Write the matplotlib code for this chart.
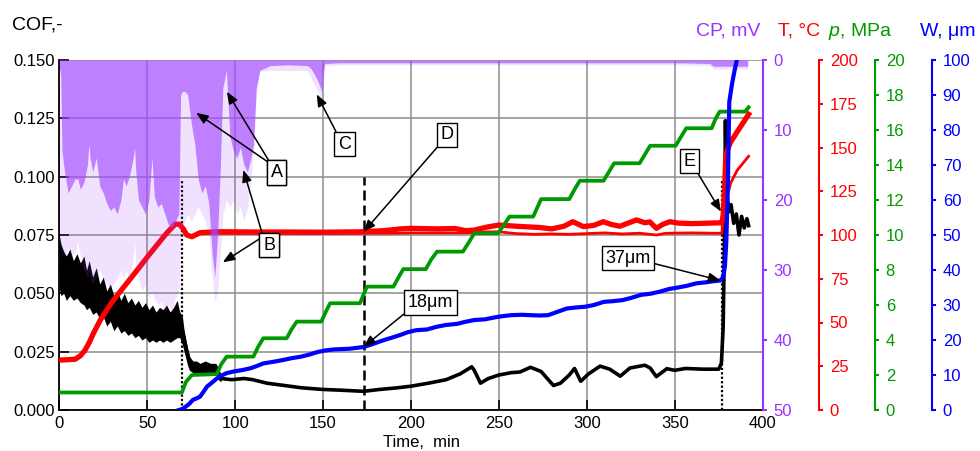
import matplotlib
matplotlib.use('Agg')
import matplotlib.pyplot as plt
from matplotlib.ticker import MultipleLocator, FormatStrFormatter

plt.rcParams['font.family'] = ['Liberation Sans', 'DejaVu Sans']
plt.rcParams['mathtext.fontset'] = 'custom'
plt.rcParams['mathtext.rm'] = 'Liberation Sans'
plt.rcParams['mathtext.it'] = 'Liberation Sans:italic'

PURPLE = '#9933ff'
RED = '#ff0000'
GREEN = '#009a00'
BLUE = '#0000ff'

# coefficient of friction: noisy envelope during running-in, then mean curve
band_t = [0, 1, 2.5, 4, 6, 8, 10, 12, 14, 15.5,
          17, 19, 21, 23, 25, 27, 29, 31, 33, 35,
          37, 39, 41, 43, 45, 47, 49, 51, 53, 55,
          57, 59, 61, 63, 65, 67, 68.5, 70, 71, 72,
          73, 74, 76, 78, 80, 83, 86, 89, 90.5, 92]
band_hi = [0.075, 0.071, 0.068, 0.066, 0.069, 0.064, 0.067, 0.063, 0.066, 0.060,
           0.064, 0.057, 0.061, 0.054, 0.057, 0.051, 0.054, 0.049, 0.051, 0.047,
           0.050, 0.046, 0.048, 0.045, 0.047, 0.044, 0.046, 0.043, 0.045, 0.042,
           0.044, 0.043, 0.045, 0.042, 0.044, 0.047, 0.042, 0.040, 0.034, 0.030,
           0.026, 0.023, 0.021, 0.021, 0.020, 0.021, 0.020, 0.020, 0.018, 0.015]
band_lo = [0.052, 0.049, 0.050, 0.047, 0.049, 0.047, 0.048, 0.046, 0.045, 0.043,
           0.044, 0.041, 0.042, 0.039, 0.040, 0.036, 0.038, 0.034, 0.036, 0.033,
           0.034, 0.032, 0.033, 0.031, 0.032, 0.030, 0.031, 0.029, 0.030, 0.029,
           0.030, 0.029, 0.030, 0.029, 0.030, 0.031, 0.031, 0.028, 0.025, 0.022,
           0.019, 0.017, 0.016, 0.016, 0.015, 0.016, 0.016, 0.015, 0.013, 0.012]

cof_t = [0, 2, 5, 8, 11, 14, 17, 20, 23, 26,
         30, 34, 38, 42, 46, 50, 55, 60, 65, 68,
         70, 72, 74, 76, 82, 88, 90, 92, 98, 105,
         110, 118, 128, 138, 150, 160, 173, 182, 192, 200,
         210, 220, 228, 234.5, 236, 239.5, 244, 250, 257, 262,
         268, 274, 281, 285, 290, 293, 296.5, 301, 307.5, 313,
         319, 324.5, 333, 336, 339.5, 345.5, 350, 356, 366, 375,
         376.5, 377.5, 378.3, 378.8, 379.3, 380, 381, 382, 383.5, 385,
         386.5, 388, 389.5, 391, 392]
cof = [0.062, 0.058, 0.057, 0.056, 0.055, 0.054, 0.050, 0.047, 0.045, 0.043,
       0.041, 0.040, 0.039, 0.038, 0.037, 0.036, 0.036, 0.036, 0.036, 0.036,
       0.034, 0.027, 0.021, 0.0185, 0.018, 0.0175, 0.016, 0.0135, 0.013, 0.0135,
       0.013, 0.0115, 0.0105, 0.0095, 0.0088, 0.0085, 0.008, 0.0088, 0.0095, 0.0102,
       0.0115, 0.013, 0.0155, 0.0185, 0.017, 0.0115, 0.0135, 0.015, 0.016, 0.0163,
       0.0183, 0.0165, 0.0105, 0.0115, 0.015, 0.0178, 0.0123, 0.0155, 0.0188, 0.0175,
       0.0145, 0.018, 0.0192, 0.018, 0.0143, 0.0177, 0.017, 0.0178, 0.0175, 0.0175,
       0.020, 0.035, 0.075, 0.124, 0.100, 0.090, 0.085, 0.088, 0.080, 0.084,
       0.075, 0.083, 0.078, 0.082, 0.079]

# contact potential (mV): dense signal depth and deepest excursions
cp_t = [0, 0.8, 1.5, 3, 5, 7, 9, 10.5, 12, 14,
        16, 16.8, 17.5, 19, 21, 23, 25, 27, 29, 31,
        33, 35, 36.5, 38, 40, 42, 42.8, 43.5, 45, 47,
        49, 51, 52.7, 54, 56, 58, 60, 62, 64, 66,
        68, 69, 70, 71.5, 73, 75, 77, 79, 81, 83,
        85, 87, 88.5, 90, 91.5, 93, 95, 97, 99, 101,
        103, 105, 107, 109, 110.5, 112, 114, 120, 130, 141,
        143, 145, 147, 148.5, 149.3, 150, 151, 160, 200, 250,
        300, 350, 370, 372, 385, 390, 391.5]
cp_dense = [1, 2, 13, 16, 19, 18, 17, 17, 18.5, 17.5,
            15, 12, 14, 16, 14, 18, 19, 20.5, 21.5, 21,
            22, 20, 17, 18, 16.5, 14, 12.5, 16, 20, 21,
            22, 20, 14, 19.5, 21, 20.5, 22, 23.5, 24, 23,
            22, 5, 4.5, 4.5, 5, 9, 12, 17, 19, 18,
            20.5, 28, 31, 25, 16, 4, 1.5, 11, 13, 14,
            12.5, 15, 16, 14, 12, 4, 1.5, 0.8, 0.7, 0.8,
            1.2, 2.0, 3.0, 4.0, 4.5, 2.0, 0.5, 0.4, 0.4, 0.4,
            0.4, 0.4, 0.5, 0.9, 0.9, 0.9, 0.9]
cp_peak = [26, 27, 27.5, 28, 27, 28, 27.5, 26, 28, 30,
           31, 30, 31, 32, 31, 30, 31, 32, 32.5, 32,
           31, 30, 31, 30, 32, 28, 26, 29, 31, 33,
           32, 34, 33, 34, 35, 34.5, 36, 35, 36, 34,
           33, 25, 24, 23, 22, 23, 22, 21, 22, 23,
           25, 31, 34.5, 33, 28, 22, 20, 21, 20, 22,
           21, 23, 21, 17, 13, 5, 1.6, 1.5, 1.5, 1.5,
           2.5, 3.5, 4.5, 5.2, 5.5, 3.5, 0.8, 0.7, 0.7, 0.7,
           0.7, 0.7, 0.8, 1.3, 1.3, 1.3, 1.3]

# temperature (two thermocouples), degC
t1_t = [0, 9, 12, 14.5, 17, 19.5, 23.3, 29.5, 33.3, 42,
        51.7, 61, 66, 68.5, 70.5, 72.5, 75.4, 80, 90, 110,
        130, 150, 170, 185, 194, 200, 215, 225, 231, 236,
        243, 250, 260, 269, 273, 280, 287, 292, 298, 304,
        309.3, 314, 318.8, 324, 328.2, 333, 335.8, 339.6, 343, 347.2,
        352, 360, 370, 376.8, 377.6, 378.4, 379, 379.9, 381.7, 385.5,
        389.3, 392]
temp1 = [28.5, 29, 31, 34, 38.5, 44, 51.4, 61, 66, 77,
         89.5, 101, 106.3, 106, 103.5, 100, 99, 101.3, 101.9, 101.7,
         101.7, 101.6, 101.8, 102.5, 103.5, 103.8, 103.5, 103.7, 102.5, 102.8,
         104.5, 105.7, 105, 104.5, 104.3, 103.5, 105, 107.6, 104.8, 105.5,
         107.6, 106, 105, 107, 108.6, 107, 107.5, 103.8, 106, 107.6,
         106.8, 106.5, 106.8, 107, 112, 128, 144.8, 148.6, 153, 159,
         164.8, 169]
t2_t = [80, 120, 160, 190, 200, 231, 243, 250, 260, 270,
        280, 290, 300, 310, 320, 330, 339.6, 345, 360, 372,
        376.8, 377.9, 381.7, 385.5, 392]
temp2 = [101, 101, 101, 101, 101.2, 101.2, 101.8, 101.8, 100.8, 100.4,
         100.6, 100.4, 100.8, 101.2, 100.6, 101, 100, 101, 101.2, 101,
         101, 114, 129.5, 137, 145]

# contact pressure, MPa
p_t = [0, 69.7, 72, 75.4, 89.6, 92, 95.2, 110.4, 113, 116,
       129.3, 132, 135, 149, 151.5, 154, 171, 173, 175, 190,
       193, 195.6, 208.4, 211.5, 214.8, 229.5, 233, 236, 249.5, 253,
       256, 269.5, 271.5, 274, 290, 293, 296, 309.5, 312.5, 315.5,
       330, 333, 336, 350.5, 353.5, 356.5, 371, 373, 375.5, 390,
       392]
pressure = [1.0, 1.0, 1.6, 2.0, 2.05, 2.6, 3.05, 3.05, 3.6, 4.1,
            4.1, 4.6, 5.05, 5.05, 5.6, 6.1, 6.1, 6.6, 7.05, 7.05,
            7.6, 8.05, 8.05, 8.6, 9.05, 9.05, 9.6, 10.1, 10.1, 10.6,
            11.05, 11.05, 11.5, 12.05, 12.05, 12.6, 13.1, 13.1, 13.6, 14.1,
            14.1, 14.6, 15.1, 15.1, 15.6, 16.1, 16.1, 16.6, 17.05, 17.05,
            17.3]

# linear wear, um
w_t = [68, 70, 72, 74, 76, 78, 80, 82, 84, 86,
       89.6, 92, 95, 99, 104, 108.5, 112, 116, 122, 127.4,
       132, 137, 142, 146.4, 151, 156, 165, 173, 178, 182.4,
       186, 190, 193.7, 198, 203, 209, 214.8, 220, 226, 231,
       235.9, 242, 248, 252, 257, 263, 268, 273, 278, 283,
       288.6, 294, 299, 304, 309.7, 315, 320.3, 325, 330.8, 336,
       341.4, 347, 351.9, 357, 362.4, 368, 372, 376, 377.5, 378.5,
       379.3, 380.2, 381, 382.5, 384, 385.5]
wear = [0, 0.3, 1, 1.8, 2.9, 3.3, 3.8, 5.2, 6.7, 7.5,
        9, 9.8, 10.5, 11, 11.4, 11.9, 12.5, 13.3, 13.8, 14.3,
        14.8, 15.2, 15.8, 16.5, 17, 17.3, 17.5, 18, 18.8, 19.6,
        20.2, 20.8, 21.4, 22.2, 22.8, 23, 23.8, 24.3, 24.6, 25.2,
        25.7, 25.9, 26.5, 26.8, 27.1, 27.2, 27.1, 27, 27.1, 28,
        29, 29.3, 29.5, 30, 30.9, 31.1, 31.4, 32, 32.9, 33.2,
        33.8, 34.6, 35, 35.5, 36.2, 36.5, 36.8, 37, 38, 41,
        48, 65, 88, 93, 97, 100.5]

# marked moments of the test
dotted_t = [70, 377]
dotted_top = 0.099
dashed_t = 173
dashed_top = 0.1

fig = plt.figure(figsize=(9.8, 4.51), dpi=100)
ax = fig.add_axes([59.3 / 980, 41 / 451, 703.4 / 980, 350 / 451])
# creation order = drawing order: temperature sits under the CP fill
axT = ax.twinx()
axCP = ax.twinx()
axP = ax.twinx()
axW = ax.twinx()

ax.set_xlim(0, 400)
ax.set_ylim(0, 0.15)
ax.xaxis.set_major_locator(MultipleLocator(50))
ax.yaxis.set_major_locator(MultipleLocator(0.025))
ax.yaxis.set_major_formatter(FormatStrFormatter('%.3f'))
ax.tick_params(direction='in', length=7, width=1.2, labelsize=12)
ax.tick_params(axis='x', pad=4.5)
ax.tick_params(axis='y', pad=3)
ax.grid(True, color='#8c8c8c', lw=1.1)
ax.spines['top'].set_visible(False)
ax.spines['right'].set_visible(False)
for s in ['left', 'bottom']:
    ax.spines[s].set_linewidth(1.3)

ax.fill_between(band_t, band_lo, band_hi, color='black', lw=0, zorder=3)
ax.plot(cof_t, cof, color='black', lw=2.6, zorder=3)
for t in dotted_t:
    ax.plot([t, t], [0, dotted_top], color='black', lw=1.6, ls=(0, (1, 1)), zorder=4)
ax.plot([dashed_t, dashed_t], [0, dashed_top], color='black', lw=1.8, ls=(0, (4, 2)), zorder=4)

side_axes = [
    (axCP, (50, 0), 10, PURPLE, 1.0),
    (axT, (0, 200), 25, RED, 1.0795),
    (axP, (0, 20), 2, GREEN, 1.159),
    (axW, (0, 100), 10, BLUE, 1.240),
]
for a, lim, step, col, pos in side_axes:
    a.set_ylim(*lim)
    a.yaxis.set_major_locator(MultipleLocator(step))
    a.spines['right'].set_position(('axes', pos))
    a.spines['right'].set_color(col)
    a.spines['right'].set_linewidth(1.5)
    for s in ['left', 'top', 'bottom']:
        a.spines[s].set_visible(False)
    a.tick_params(axis='y', direction='out', length=3, width=1.5,
                  colors=col, labelsize=12, pad=5)

axT.plot(t1_t, temp1, color=RED, lw=3.8)
axT.plot(t2_t, temp2, color=RED, lw=2.0)

axCP.fill_between(cp_t, 0, cp_dense, color='#a44aff', alpha=0.7, lw=0)
axCP.fill_between(cp_t, cp_dense, cp_peak, color='#a44aff', alpha=0.16, lw=0)

axP.plot(p_t, pressure, color=GREEN, lw=2.7)
axW.plot(w_t, wear, color=BLUE, lw=3.0)

# labelled boxes with arrows (drawn on the top axes so they stay above the fill)
box = dict(boxstyle='square,pad=0.2', fc='white', ec='black', lw=1)


def callout(text, xy, xytext, relpos, coords=None):
    axW.annotate(text, xy=xy, xycoords=coords or ax.transData,
                 xytext=xytext, textcoords=ax.transData,
                 ha='center', va='center', fontsize=13, bbox=box,
                 arrowprops=dict(arrowstyle='-|>,head_length=0.55,head_width=0.22',
                                 color='black', lw=1.1, shrinkA=0, shrinkB=0,
                                 relpos=relpos),
                 annotation_clip=False)


callout('A', (77.8, 0.1274), (123.7, 0.1018), (0, 1))
callout('A', (95.3, 0.1364), (123.7, 0.1018), (0, 1))
callout('B', (104.7, 0.1029), (119.3, 0.0707), (0, 1))
callout('B', (93.0, 0.0633), (119.3, 0.0707), (0, 1))
callout('C', (146.4, 0.1353), (162.2, 0.1139), (0, 1))
callout('D', (173, 101.7), (220.5, 0.1179), (0, 0), axT.transData)
callout('E', (376.3, 0.085), (358.5, 0.1066), (1, 0))
callout('18μm', (173, 18), (211, 0.0461), (0, 0), axW.transData)
callout('37μm', (376, 37), (323.3, 0.065), (1, 0.25), axW.transData)

# axis titles
fig.text(11.7 / 980, 1 - 30 / 451, 'COF,-', fontsize=14, va='baseline')
ty = 1 - 36 / 451
fig.text(760 / 980, ty, 'CP, mV', fontsize=14, color=PURPLE, ha='right', va='baseline')
fig.text(778 / 980, ty, 'T, °C', fontsize=14, color=RED, va='baseline')
fig.text(828 / 980, ty, '$p$, MPa', fontsize=14, color=GREEN, va='baseline')
fig.text(920 / 980, ty, 'W, μm', fontsize=14, color=BLUE, va='baseline')
fig.text(383 / 980, 1 - 447 / 451, 'Time,  min', fontsize=12, va='baseline')

fig.savefig('out.png', dpi=100)
